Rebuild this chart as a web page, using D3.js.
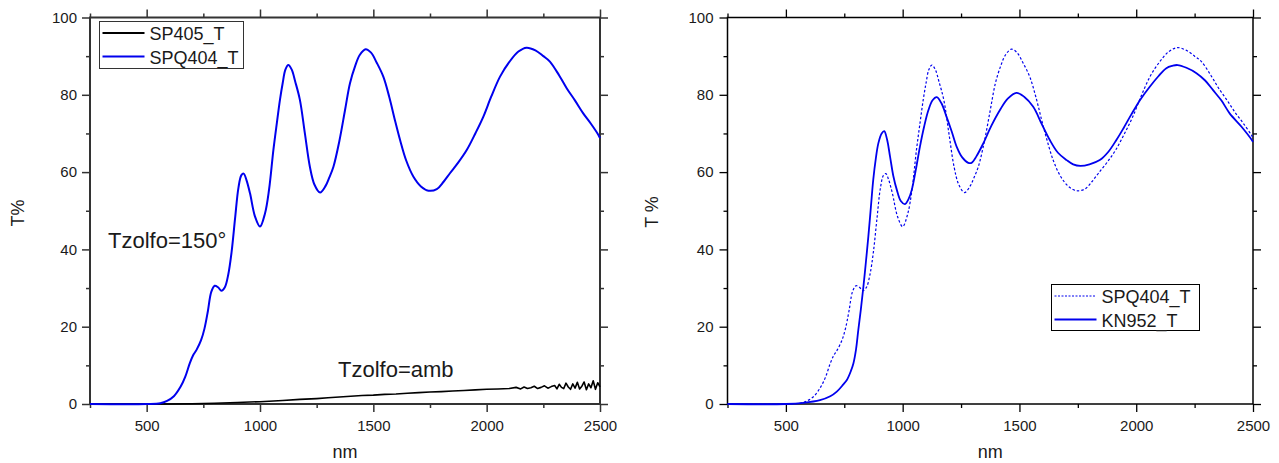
<!DOCTYPE html>
<html>
<head>
<meta charset="utf-8">
<script src="https://cdn.jsdelivr.net/npm/d3@7"></script>
<style>
  html, body { margin: 0; padding: 0; background: #fff; }
  svg text { font-family: Arial, "Liberation Sans", sans-serif; fill: #1a1a1a; }
</style>
</head>
<body>
<svg id="chart" width="1279" height="463"></svg>
<script>
// ---------------- DATA ----------------
const xMajorTicks = [500, 1000, 1500, 2000, 2500];
const xMinorTicks = [250, 750, 1250, 1750, 2250];
const yMajorTicks = [0, 20, 40, 60, 80, 100];
const yMinorTicks = [10, 30, 50, 70, 90];

// SPQ404_T (wavelength nm, T %)
const spq404_nm = [250, 500, 560, 590, 620, 650, 670, 690, 705, 720, 740, 755, 770, 785, 800, 815, 830, 845, 860, 875, 890, 905, 918, 928, 940, 956, 978, 1000, 1022, 1040, 1059, 1075, 1088, 1100, 1112, 1125, 1140, 1155, 1176, 1198, 1220, 1240, 1265, 1290, 1305, 1324, 1350, 1375, 1397, 1420, 1440, 1466, 1490, 1515, 1544, 1570, 1595, 1618, 1645, 1677, 1710, 1743, 1780, 1810, 1838, 1875, 1912, 1950, 1985, 2020, 2059, 2100, 2140, 2176, 2215, 2250, 2279, 2320, 2353, 2390, 2426, 2460, 2493, 2500];
const spq404_T  = [0, 0, 0.2, 0.8, 2.0, 4.5, 7, 10.5, 12.6, 14, 16.5, 19.5, 24, 29, 30.6, 30.2, 29.3, 30.2, 33.5, 39.5, 48, 56, 59.2, 59.6, 58, 54.5, 48.5, 45.9, 49.3, 55.5, 65.7, 73, 78.7, 83, 86.5, 87.7, 86.5, 83.5, 78.7, 70, 61.4, 56.8, 54.7, 56.5, 58.5, 61.4, 68, 76, 83, 87.5, 90.3, 91.8, 90.9, 88.3, 84.7, 79.5, 73.5, 68.3, 63, 58.8, 56.3, 55.2, 55.6, 57.5, 59.7, 62.5, 65.7, 70, 74.3, 79.5, 84.7, 88.5, 91.2, 92.2, 91.5, 90, 88.6, 85, 81.7, 78.5, 75.2, 72.5, 69.6, 68.8];

// SP405_T (wavelength nm, T %)
const sp405_nm = [250, 600, 700, 800, 900, 1000, 1100, 1176, 1250, 1300, 1350, 1400, 1450, 1500, 1550, 1600, 1650, 1700, 1750, 1800, 1850, 1900, 1950, 2000, 2050, 2100, 2130, 2150, 2165, 2180, 2195, 2210, 2225, 2240, 2255, 2270, 2285, 2300, 2310, 2320, 2330, 2340, 2350, 2360, 2370, 2380, 2390, 2400, 2410, 2420, 2430, 2440, 2450, 2460, 2470, 2480, 2490, 2500];
const sp405_T  = [0, 0, 0.05, 0.2, 0.4, 0.6, 0.9, 1.2, 1.4, 1.6, 1.8, 2.0, 2.2, 2.3, 2.5, 2.6, 2.8, 2.95, 3.1, 3.2, 3.35, 3.5, 3.65, 3.8, 3.9, 4.0, 4.3, 3.9, 4.4, 4.0, 4.2, 4.6, 4.0, 4.3, 4.7, 4.1, 4.5, 4.8, 3.9, 5.1, 4.3, 4.0, 5.4, 4.4, 3.8, 5.2, 4.1, 5.6, 3.9, 4.6, 5.7, 3.7, 5.2, 4.2, 6.0, 3.8, 5.5, 4.4];

// KN952_T (wavelength nm, T %)
const kn952_nm = [250, 500, 575, 646, 690, 718, 745, 761, 778, 789, 800, 810, 821, 832, 843, 853, 864, 874, 885, 896, 910, 921, 933, 946, 960, 975, 992, 1010, 1025, 1039, 1056, 1074, 1092, 1110, 1128, 1146, 1166, 1188, 1210, 1231, 1255, 1281, 1295, 1315, 1345, 1380, 1416, 1450, 1487, 1520, 1559, 1595, 1630, 1665, 1702, 1730, 1761, 1800, 1844, 1880, 1915, 1945, 1978, 2018, 2058, 2095, 2129, 2155, 2177, 2215, 2258, 2295, 2329, 2365, 2400, 2450, 2495, 2500];
const kn952_T  = [0, 0, 0.3, 1.0, 2.0, 3.2, 5, 6.2, 8.5, 10.5, 14, 19.1, 24.5, 30.4, 37, 43.3, 51, 58, 63.5, 67.5, 70, 70.6, 68.5, 64, 59, 55.4, 52.5, 51.7, 53, 55.4, 60.5, 66.6, 71.8, 76, 78.6, 79.4, 77.8, 74.3, 70.5, 66.6, 63.8, 62.4, 62.4, 64, 67.4, 72, 76, 79, 80.5, 79.5, 76.9, 72.5, 68.3, 65, 63.1, 62, 61.6, 62, 63.1, 65.2, 68.3, 71.3, 74.8, 78.8, 82.1, 84.8, 86.9, 87.5, 87.7, 87, 85.6, 83.7, 81.2, 78.5, 75.2, 71.8, 68.3, 67.8];

const xDomain = [250, 2500];
const yDomain = [0, 100];

// ---------------- DRAW ----------------
const svg = d3.select("#chart");
const zip = (xs, ys) => xs.map((x, i) => [x, ys[i]]);

function drawPanel(p) {
  const x = d3.scaleLinear().domain(xDomain).range([p.left, p.right]);
  const y = d3.scaleLinear().domain(yDomain).range([p.bottom, p.top]);
  const g = svg.append("g");

  const styleAxis = (sel) => {
    sel.select(".domain").remove();
    sel.selectAll("line").attr("stroke", p.axisColor).attr("stroke-width", p.tickWidth);
    sel.selectAll("text").style("font-size", "15px").attr("fill", "#1a1a1a");
  };

  // minor ticks
  g.append("g").attr("transform", `translate(0,${p.bottom})`)
    .call(d3.axisBottom(x).tickValues(xMinorTicks).tickSize(4).tickFormat(""))
    .call(styleAxis);
  g.append("g").attr("transform", `translate(0,${p.top})`)
    .call(d3.axisTop(x).tickValues(xMinorTicks).tickSize(4).tickFormat(""))
    .call(styleAxis);
  g.append("g").attr("transform", `translate(${p.left},0)`)
    .call(d3.axisLeft(y).tickValues(yMinorTicks).tickSize(4).tickFormat(""))
    .call(styleAxis);
  g.append("g").attr("transform", `translate(${p.right},0)`)
    .call(d3.axisRight(y).tickValues(yMinorTicks).tickSize(4).tickFormat(""))
    .call(styleAxis);
  // major ticks
  g.append("g").attr("transform", `translate(0,${p.bottom})`)
    .call(d3.axisBottom(x).tickValues(xMajorTicks).tickSize(8).tickPadding(8).tickFormat(d3.format("d")))
    .call(styleAxis);
  g.append("g").attr("transform", `translate(0,${p.top})`)
    .call(d3.axisTop(x).tickValues(xMajorTicks).tickSize(8).tickFormat(""))
    .call(styleAxis);
  g.append("g").attr("transform", `translate(${p.left},0)`)
    .call(d3.axisLeft(y).tickValues(yMajorTicks).tickSize(8).tickPadding(p.yPad).tickFormat(d3.format("d")))
    .call(styleAxis);
  g.append("g").attr("transform", `translate(${p.right},0)`)
    .call(d3.axisRight(y).tickValues(yMajorTicks).tickSize(8).tickFormat(""))
    .call(styleAxis);

  // frame
  g.append("rect")
    .attr("x", p.left).attr("y", p.top)
    .attr("width", p.right - p.left).attr("height", p.bottom - p.top)
    .attr("fill", "none").attr("stroke", p.axisColor).attr("stroke-width", p.frameWidth);

  // series
  p.series.forEach(s => {
    const line = d3.line().x(d => x(d[0])).y(d => y(Math.max(0, d[1])))
      .curve(s.noisy ? d3.curveLinear : d3.curveCatmullRom.alpha(0.5));
    g.append("path")
      .datum(zip(s.nm, s.T))
      .attr("d", line)
      .attr("fill", "none")
      .attr("stroke", s.color)
      .attr("stroke-width", s.width)
      .attr("stroke-dasharray", s.dash || null)
      .attr("stroke-linejoin", "round");
  });

  // axis titles
  g.append("text")
    .attr("x", (p.left + p.right) / 2).attr("y", 458)
    .attr("text-anchor", "middle").style("font-size", "18px")
    .text("nm");
  g.append("text")
    .attr("transform", `translate(${p.yTitleX},${p.yTitleY}) rotate(-90)`)
    .attr("text-anchor", "middle").style("font-size", "18px")
    .text(p.yTitle);

  // legend
  const L = p.legend;
  g.append("rect")
    .attr("x", L.x).attr("y", L.y).attr("width", L.w).attr("height", L.h)
    .attr("fill", "#fff").attr("stroke", p.axisColor).attr("stroke-width", 1);
  L.items.forEach((it, i) => {
    const yy = L.y + 11.5 + i * 23.5;
    g.append("line")
      .attr("x1", L.x + 3).attr("x2", L.x + 45)
      .attr("y1", yy).attr("y2", yy)
      .attr("stroke", it.color).attr("stroke-width", it.width)
      .attr("stroke-dasharray", it.dash || null);
    g.append("text")
      .attr("x", L.x + 50).attr("y", yy + 7)
      .style("font-size", "18px")
      .text(it.label);
  });

  // annotations
  (p.notes || []).forEach(n => {
    g.append("text").attr("x", n.x).attr("y", n.y).style("font-size", "22px").text(n.text);
  });
}

drawPanel({
  left: 90, right: 600, top: 17.5, bottom: 404,
  axisColor: "#333", frameWidth: 2, tickWidth: 1.5, yPad: 5,
  yTitle: "T%", yTitleX: 23.5, yTitleY: 213,
  series: [
    { nm: sp405_nm, T: sp405_T, color: "#000", width: 1.6, noisy: true },
    { nm: spq404_nm, T: spq404_T, color: "#0000ee", width: 2 }
  ],
  legend: { x: 99.5, y: 21.5, w: 144, h: 47,
    items: [
      { label: "SP405_T", color: "#000", width: 2 },
      { label: "SPQ404_T", color: "#0000ee", width: 2 }
    ] },
  notes: [
    { x: 108, y: 248, text: "Tzolfo=150°" },
    { x: 338, y: 377, text: "Tzolfo=amb" }
  ]
});

drawPanel({
  left: 727.5, right: 1253, top: 17.5, bottom: 404,
  axisColor: "#000", frameWidth: 1.5, tickWidth: 1.3, yPad: 6,
  yTitle: "T %", yTitleX: 658, yTitleY: 212,
  series: [
    { nm: spq404_nm, T: spq404_T, color: "#0000ee", width: 1.2, dash: "2.5,2" },
    { nm: kn952_nm, T: kn952_T, color: "#0000ee", width: 1.8 }
  ],
  legend: { x: 1051.5, y: 284.5, w: 148, h: 46,
    items: [
      { label: "SPQ404_T", color: "#0000ee", width: 1, dash: "2,1.5" },
      { label: "KN952_T", color: "#0000ee", width: 2 }
    ] }
});
</script>
</body>
</html>
